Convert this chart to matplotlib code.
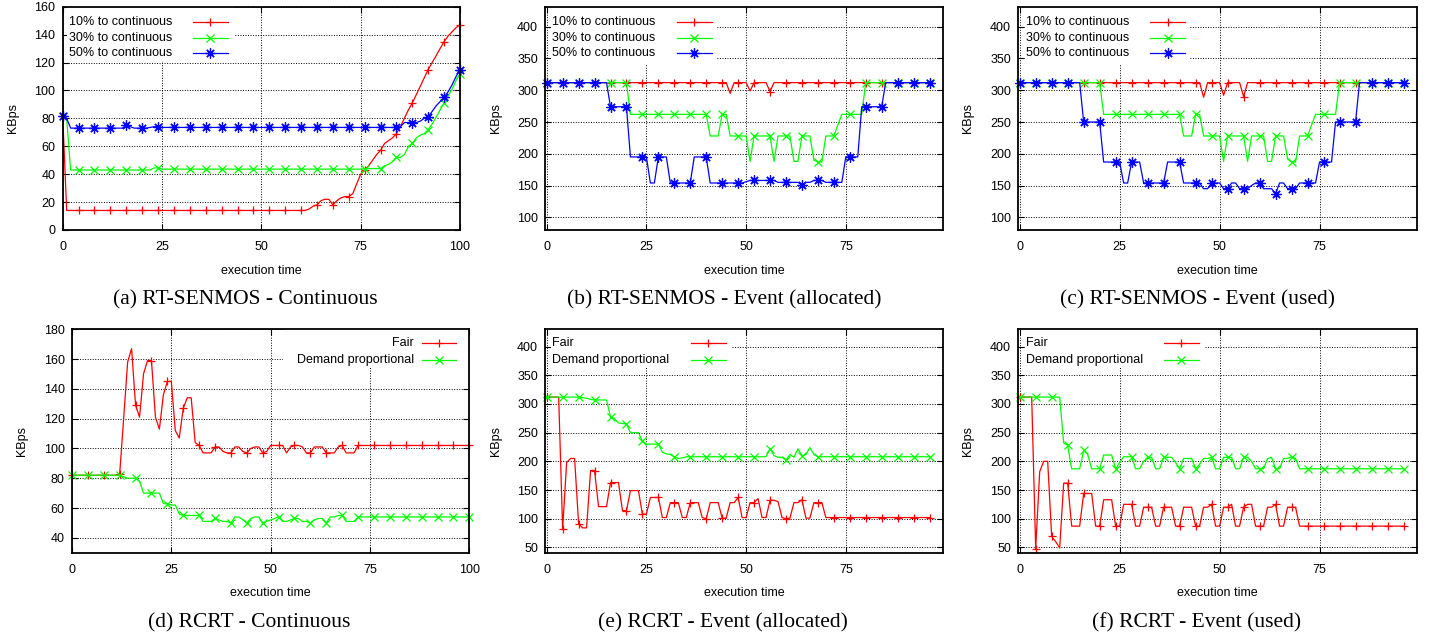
import numpy as np
import matplotlib
matplotlib.use('Agg')
import matplotlib.pyplot as plt
from matplotlib.lines import Line2D
from matplotlib.patches import Rectangle

plt.rcParams['font.family'] = ['Liberation Sans', 'DejaVu Sans']

# ---------------- data (one sample per time step) ----------------
# (a) RT-SENMOS - Continuous
a_red = [82, 14, 14, 14, 14, 14, 14, 14, 14, 14,
         14, 14, 14, 14, 14, 14, 14, 14, 14, 14,
         14, 14, 14, 14, 14, 14, 14, 14, 14, 14,
         14, 14, 14, 14, 14, 14, 14, 14, 14, 14,
         14, 14, 14, 14, 14, 14, 14, 14, 14, 14,
         14, 14, 14, 14, 14, 14, 14, 14, 14, 14,
         14, 14, 15, 17, 18, 21, 22, 22, 18, 21,
         23, 24, 24, 26, 33, 40, 43, 46, 50, 54,
         57, 62, 64, 66, 69, 74, 80, 86, 91, 97,
         103, 109, 115, 120, 125, 130, 135, 139, 142, 145,
         147]
a_green = [82, 80, 43, 43, 43, 43, 43, 43, 43, 43,
           43, 43, 43, 43, 43, 43, 43, 43, 43, 43,
           43, 43, 43, 44.5, 44.5, 43.6, 43.6, 43.6, 43.6, 43.6,
           43.6, 43.6, 43.6, 43.6, 43.6, 43.6, 43.6, 43.6, 43.6, 43.6,
           43.6, 43.6, 43.6, 43.6, 43.6, 43.6, 43.6, 43.6, 43.6, 43.6,
           43.6, 43.6, 43.6, 43.6, 43.6, 43.6, 43.6, 43.6, 43.6, 43.6,
           43.6, 43.6, 43.6, 43.6, 43.6, 43.6, 43.6, 43.6, 43.6, 43.6,
           43.6, 43.6, 43.6, 43.6, 43.6, 43.6, 44, 44, 44, 44,
           44, 46, 47, 49, 52, 52, 54, 60, 62, 66,
           68, 69, 72, 76, 81, 86, 91, 96, 101, 107,
           112]
a_blue = [82, 80, 73, 73, 73, 73, 73, 73, 73, 73,
          73, 73, 73, 73, 73, 73, 75, 74, 73, 73,
          73, 73, 73.5, 74, 74, 73.5, 73.5, 73.5, 73.5, 73.5,
          73.5, 73.5, 73.5, 73.5, 73.5, 73.5, 73.5, 73.5, 73.5, 73.5,
          73.5, 73.5, 73.5, 73.5, 73.5, 73.5, 73.5, 73.5, 73.5, 73.5,
          73.5, 73.5, 73.5, 73.5, 73.5, 73.5, 73.5, 73.5, 73.5, 73.5,
          73.5, 73.5, 73.5, 73.5, 73.5, 73.5, 73.5, 73.5, 73.5, 73.5,
          73.5, 73.5, 73.5, 73.5, 73.5, 73.5, 73.5, 73.5, 73.5, 73.5,
          73.5, 73.5, 73.5, 73.5, 73.5, 74, 77, 77, 77, 77,
          78, 80, 81, 85, 89, 92, 95, 99, 104, 110,
          115]

# (b) RT-SENMOS - Event (allocated)
b_red = [312, 312, 312, 312, 312, 312, 312, 312, 312, 312,
         312, 312, 312, 312, 312, 312, 312, 312, 312, 312,
         312, 312, 312, 312, 312, 312, 312, 312, 312, 312,
         312, 312, 312, 312, 312, 312, 312, 312, 312, 312,
         312, 312, 312, 312, 312, 312, 295, 312, 312, 312,
         312, 299, 312, 312, 312, 312, 298, 312, 312, 312,
         312, 312, 312, 312, 312, 312, 312, 312, 312, 312,
         312, 312, 312, 312, 312, 312, 312, 312, 312, 312,
         312, 312, 312, 312, 312, 312, 312, 312, 312, 312,
         312, 312, 312, 312, 312, 312, 312]
b_green = [312, 312, 312, 312, 312, 312, 312, 312, 312, 312,
           312, 312, 312, 312, 312, 312, 312, 312, 312, 312,
           312, 262, 262, 262, 262, 262, 262, 262, 262, 262,
           262, 262, 262, 262, 262, 262, 262, 262, 262, 262,
           262, 228, 228, 228, 262, 262, 228, 228, 228, 228,
           228, 188, 228, 228, 228, 228, 228, 188, 228, 228,
           228, 228, 188, 188, 228, 228, 228, 190, 187, 187,
           228, 228, 228, 245, 262, 262, 262, 262, 262, 262,
           312, 312, 312, 312, 312, 312, 312, 312, 312, 312,
           312, 312, 312, 312, 312, 312, 312]
b_blue = [312, 312, 312, 312, 312, 312, 312, 312, 312, 312,
          312, 312, 312, 312, 312, 312, 274, 274, 274, 274,
          274, 195, 195, 195, 195, 195, 154, 154, 195, 195,
          195, 154, 154, 154, 154, 154, 154, 195, 195, 195,
          195, 154, 154, 154, 154, 154, 154, 154, 154, 154,
          156, 158, 158, 158, 158, 158, 158, 158, 155, 155,
          155, 155, 155, 155, 151, 155, 155, 158, 158, 158,
          155, 155, 155, 155, 155, 195, 195, 195, 195, 274,
          274, 274, 274, 274, 274, 312, 312, 312, 312, 312,
          312, 312, 312, 312, 312, 312, 312]

# (c) RT-SENMOS - Event (used)
c_red = [312, 312, 312, 312, 312, 312, 312, 312, 312, 312,
         312, 312, 312, 312, 312, 312, 312, 312, 312, 312,
         312, 312, 312, 312, 312, 312, 312, 312, 312, 312,
         312, 312, 312, 312, 312, 312, 312, 312, 312, 312,
         312, 312, 312, 312, 312, 312, 289, 312, 312, 312,
         312, 292, 312, 312, 312, 312, 290, 312, 312, 312,
         312, 312, 312, 312, 312, 312, 312, 312, 312, 312,
         312, 312, 312, 312, 312, 312, 312, 312, 312, 312,
         312, 312, 312, 312, 312, 312, 312, 312, 312, 312,
         312, 312, 312, 312, 312, 312, 312]
c_green = [312, 312, 312, 312, 312, 312, 312, 312, 312, 312,
           312, 312, 312, 312, 312, 312, 312, 312, 312, 312,
           312, 262, 262, 262, 262, 262, 262, 262, 262, 262,
           262, 262, 262, 262, 262, 262, 262, 262, 262, 262,
           262, 228, 228, 228, 262, 262, 228, 228, 228, 228,
           228, 188, 228, 228, 228, 228, 228, 188, 228, 228,
           228, 228, 188, 188, 228, 228, 228, 192, 187, 187,
           228, 228, 228, 245, 262, 262, 262, 262, 262, 262,
           312, 312, 312, 312, 312, 312, 312, 312, 312, 312,
           312, 312, 312, 312, 312, 312, 312]
c_blue = [312, 312, 312, 312, 312, 312, 312, 312, 312, 312,
          312, 312, 312, 312, 312, 312, 250, 250, 250, 250,
          250, 187, 187, 187, 187, 187, 154, 154, 187, 187,
          187, 154, 154, 154, 154, 154, 154, 187, 187, 187,
          187, 154, 154, 154, 154, 154, 145, 145, 154, 154,
          154, 145, 145, 154, 154, 145, 145, 145, 150, 154,
          154, 145, 145, 145, 137, 154, 154, 145, 145, 145,
          154, 154, 154, 154, 154, 187, 187, 187, 187, 250,
          250, 250, 250, 250, 250, 312, 312, 312, 312, 312,
          312, 312, 312, 312, 312, 312, 312]

# (d) RCRT - Continuous
d_fair = [82, 82, 82, 82, 82, 82, 82, 82, 82, 82,
          82, 82, 83, 120, 158, 167, 129, 121, 150, 159,
          159, 121, 113, 136, 145, 145, 112, 107, 127, 134,
          134, 104, 102, 97, 97, 97, 101, 101, 98, 97,
          97, 101, 101, 98, 97, 100, 101, 101, 97, 98,
          102, 102, 102, 102, 97, 101, 102, 102, 101, 97,
          97, 101, 101, 101, 97, 97, 97, 101, 102, 97,
          97, 97, 102, 102, 102, 102, 102, 102, 102, 102,
          102, 102, 102, 102, 102, 102, 102, 102, 102, 102,
          102, 102, 102, 102, 102, 102, 102, 102, 102, 102,
          102]
d_demand = [82, 82, 82, 82, 82, 82, 82, 82, 82, 82,
            82, 82, 82, 81, 80, 80, 80, 78, 70, 70,
            70, 70, 70, 63, 63, 62, 62, 56, 55, 55,
            55, 55, 55, 51, 51, 51, 53, 52, 51, 51,
            50, 54, 54, 52, 50, 53, 54, 54, 50, 51,
            52, 53, 54, 51, 51, 52, 53, 53, 51, 51,
            50, 52, 53, 53, 50, 54, 54, 55, 55, 51,
            51, 51, 54, 54, 54, 54, 54, 54, 54, 54,
            54, 54, 54, 54, 54, 54, 54, 54, 54, 54,
            54, 54, 54, 54, 54, 54, 54, 54, 54, 54,
            54]

# (e) RCRT - Event (allocated)
e_fair = [312, 312, 312, 312, 82, 198, 205, 205, 91, 84,
          84, 184, 184, 121, 121, 121, 163, 163, 163, 114,
          114, 149, 149, 149, 108, 108, 137, 137, 137, 102,
          102, 128, 128, 128, 102, 102, 128, 128, 128, 102,
          100, 128, 128, 128, 101, 101, 128, 128, 137, 102,
          102, 128, 128, 135, 102, 102, 132, 132, 130, 102,
          100, 101, 128, 128, 133, 101, 101, 128, 128, 128,
          102, 102, 102, 102, 102, 102, 102, 102, 102, 102,
          102, 102, 102, 102, 102, 102, 102, 102, 102, 102,
          102, 102, 102, 102, 102, 102, 102]
e_demand = [312, 312, 312, 312, 312, 312, 312, 312, 312, 311,
            310, 308, 307, 307, 307, 307, 278, 274, 267, 266,
            265, 250, 250, 250, 235, 230, 230, 230, 230, 216,
            213, 212, 208, 205, 206, 208, 208, 208, 208, 208,
            208, 208, 208, 208, 208, 208, 208, 208, 208, 208,
            208, 208, 208, 208, 208, 208, 222, 210, 207, 207,
            202, 212, 207, 222, 210, 212, 224, 212, 208, 208,
            208, 208, 208, 208, 208, 208, 208, 208, 208, 208,
            208, 208, 208, 208, 208, 208, 208, 208, 208, 208,
            208, 208, 208, 208, 208, 208, 208]

# (f) RCRT - Event (used)
f_fair = [312, 312, 312, 312, 48, 182, 200, 200, 69, 60,
          49, 162, 162, 87, 87, 87, 144, 144, 144, 87,
          87, 133, 133, 133, 87, 87, 125, 125, 125, 87,
          87, 120, 120, 120, 87, 87, 120, 120, 120, 87,
          87, 120, 120, 120, 87, 87, 120, 120, 125, 87,
          87, 120, 120, 125, 87, 87, 120, 125, 125, 87,
          87, 87, 120, 120, 125, 87, 87, 120, 120, 120,
          87, 87, 87, 87, 87, 87, 87, 87, 87, 87,
          87, 87, 87, 87, 87, 87, 87, 87, 87, 87,
          87, 87, 87, 87, 87, 87, 87]
f_demand = [312, 312, 312, 312, 312, 312, 312, 312, 312, 312,
            312, 232, 228, 187, 187, 187, 219, 212, 187, 187,
            187, 211, 211, 211, 187, 198, 208, 208, 208, 187,
            187, 200, 207, 207, 187, 187, 207, 207, 207, 198,
            187, 205, 205, 205, 187, 195, 205, 205, 207, 187,
            187, 207, 207, 207, 187, 187, 207, 207, 200, 187,
            187, 187, 205, 207, 187, 187, 205, 205, 208, 205,
            187, 187, 187, 187, 187, 187, 187, 187, 187, 187,
            187, 187, 187, 187, 187, 187, 187, 187, 187, 187,
            187, 187, 187, 187, 187, 187, 187]

senmos_labels = ['10% to continuous', '30% to continuous', '50% to continuous']
rcrt_labels = ['Fair', 'Demand proportional']
captions = ['(a) RT-SENMOS - Continuous', '(b) RT-SENMOS - Event (allocated)',
            '(c) RT-SENMOS - Event (used)', '(d) RCRT - Continuous',
            '(e) RCRT - Event (allocated)', '(f) RCRT - Event (used)']
xlabel = 'execution time'
ylabel = 'KBps'

# ---------------- styling ----------------
W, H = 1434, 639
fig = plt.figure(figsize=(W / 100, H / 100), dpi=100)
FS = 9
RED, GREEN, BLUE = '#ff0000', '#00ff00', '#0000ff'
STAR = (8, 2, 0)
STYLES = [(RED, '+', 6.3), (GREEN, 'x', 5.8), (BLUE, STAR, 7.3)]
LW = 0.9


def axes_px(l, t, r, b):
    return fig.add_axes([l / W, 1 - b / H, (r - l) / W, (b - t) / H])


def plot_series(ax, series, styles):
    for y, (c, m, ms) in zip(series, styles):
        x = np.arange(len(y))
        ax.plot(x, y, color=c, lw=LW, marker=m, ms=ms, mew=0.9,
                markevery=4, zorder=2, clip_on=False)


def legend(ax, labels, styles, tx, ha, lx0, lx1, ys, box):
    ax.add_patch(Rectangle((box[0], box[1]), box[2] - box[0], box[3] - box[1],
                           transform=ax.transAxes, facecolor='white',
                           edgecolor='none', zorder=1))
    for lab, (c, m, ms), y in zip(labels, styles, ys):
        ax.text(tx, y, lab, transform=ax.transAxes, ha=ha, va='center',
                fontsize=FS, zorder=3)
        ax.add_line(Line2D([lx0, lx1], [y, y], transform=ax.transAxes,
                           color=c, lw=LW, zorder=3))
        ax.add_line(Line2D([(lx0 + lx1) / 2], [y], transform=ax.transAxes,
                           color=c, marker=m, ms=ms, mew=0.9, ls='none', zorder=3))


def style(ax, xlim, ylim, xticks, yticks, xl_y):
    ax.set_xlim(*xlim)
    ax.set_ylim(*ylim)
    ax.set_xticks(xticks)
    ax.set_yticks(yticks)
    ax.tick_params(direction='in', length=4, width=0.8, top=True, right=True,
                   labelsize=FS, colors='black')
    ax.tick_params(axis='x', pad=8.2)
    ax.tick_params(axis='y', pad=5.3)
    for s in ax.spines.values():
        s.set_linewidth(1.3)
    ax.set_axisbelow(True)
    ax.grid(True, color='black', linestyle=(0, (1, 1.6)), linewidth=0.7)
    ax.set_xlabel(xlabel, fontsize=FS)
    ax.set_ylabel(ylabel, fontsize=FS)
    ax.xaxis.set_label_coords(0.5, xl_y)
    ax.xaxis.label.set_va('center')
    ax.yaxis.set_label_coords(-0.125, 0.5)
    ax.yaxis.label.set_va('center')


ys3 = [0.933, 0.861, 0.791]
ys2 = [0.937, 0.863]
xev = (-0.35, 99.45)

# (a)
ax = axes_px(62.7, 6.7, 460, 230)
plot_series(ax, [a_red, a_green, a_blue], STYLES)
legend(ax, senmos_labels, STYLES, 0.016, 'left', 0.328, 0.416, ys3, (0.012, 0.755, 0.434, 1.0))
style(ax, (0, 100), (0, 160), [0, 25, 50, 75, 100], np.arange(0, 161, 20), -0.182)

# (b)
ax = axes_px(545.3, 6.7, 943.3, 230)
plot_series(ax, [b_red, b_green, b_blue], STYLES)
legend(ax, senmos_labels, STYLES, 0.017, 'left', 0.330, 0.418, ys3, (0.014, 0.74, 0.431, 1.0))
style(ax, xev, (80, 431.5), [0, 25, 50, 75], np.arange(100, 401, 50), -0.182)

# (c)
ax = axes_px(1018.3, 6.7, 1417.3, 230)
plot_series(ax, [c_red, c_green, c_blue], STYLES)
legend(ax, senmos_labels, STYLES, 0.019, 'left', 0.330, 0.418, ys3, (0.017, 0.74, 0.43, 1.0))
style(ax, xev, (80, 431.5), [0, 25, 50, 75], np.arange(100, 401, 50), -0.182)

# (d)
ax = axes_px(72, 329.3, 469.3, 552.7)
plot_series(ax, [d_fair, d_demand], STYLES[:2])
legend(ax, rcrt_labels, STYLES[:2], 0.861, 'right', 0.880, 0.967, ys2, (0.532, 0.83, 1.0, 1.0))
style(ax, (0, 100), (30, 180), [0, 25, 50, 75, 100], np.arange(40, 181, 20), -0.179)

# (e)
ax = axes_px(545.3, 329.3, 943.3, 552.7)
plot_series(ax, [e_fair, e_demand], STYLES[:2])
legend(ax, rcrt_labels, STYLES[:2], 0.017, 'left', 0.365, 0.453, ys2, (0.014, 0.83, 0.466, 1.0))
style(ax, xev, (40.7, 430.2), [0, 25, 50, 75], np.arange(50, 401, 50), -0.179)

# (f)
ax = axes_px(1018.3, 329.3, 1417.3, 552.7)
plot_series(ax, [f_fair, f_demand], STYLES[:2])
legend(ax, rcrt_labels, STYLES[:2], 0.019, 'left', 0.365, 0.453, ys2, (0.017, 0.83, 0.468, 1.0))
style(ax, xev, (40.7, 430.2), [0, 25, 50, 75], np.arange(50, 401, 50), -0.179)

cap_pos = [(245, 300), (724, 300), (1197, 300), (249.5, 623), (723, 623), (1197, 623)]
for (cx, cy), cap in zip(cap_pos, captions):
    fig.text(cx / W, 1 - cy / H, cap, ha='center', va='center',
             family=['Liberation Serif', 'DejaVu Serif'], fontsize=15.5)

fig.savefig('out.png', dpi=100)
